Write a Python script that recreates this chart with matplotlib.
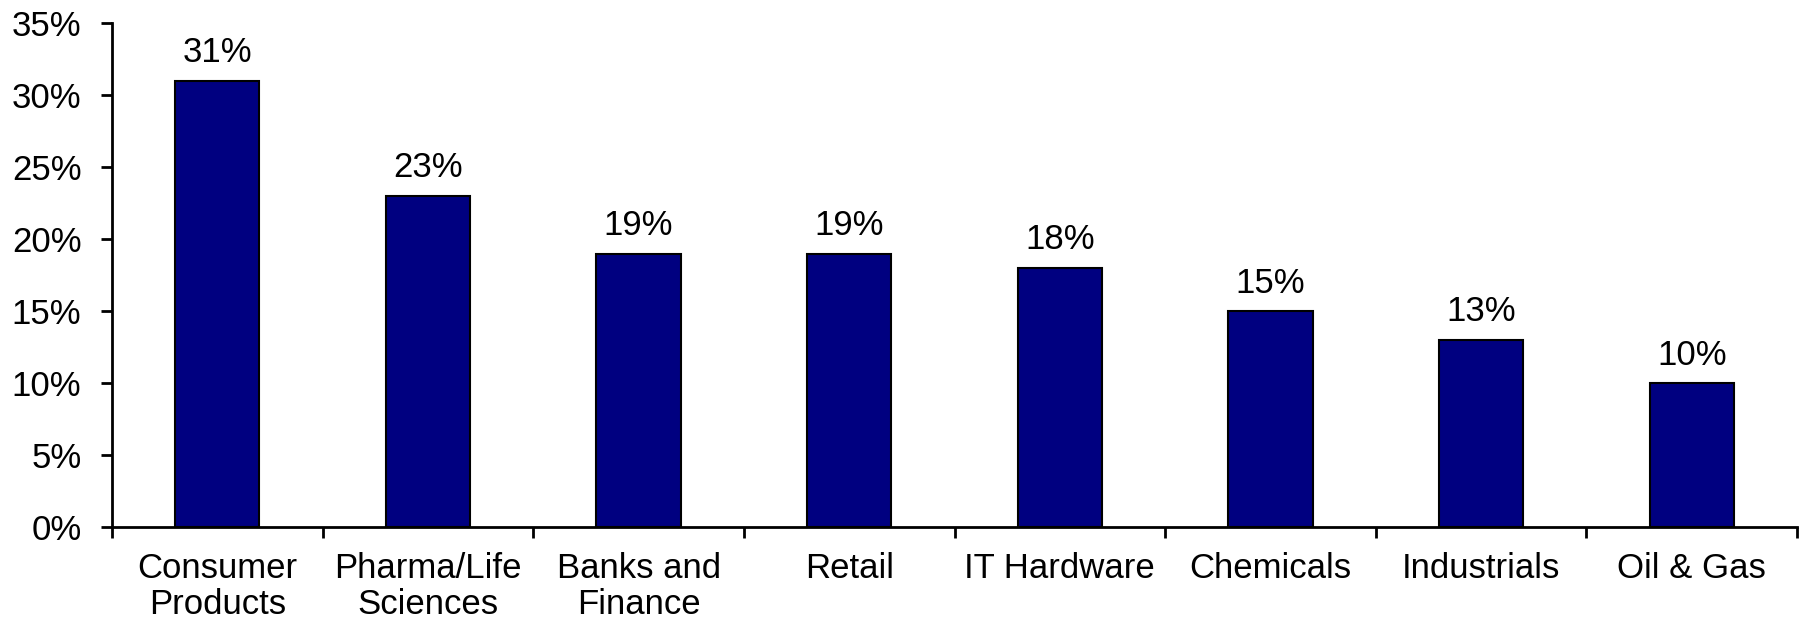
import matplotlib.pyplot as plt
import numpy as np
from matplotlib.ticker import FixedLocator, PercentFormatter

plt.rcParams['font.family'] = ['Liberation Sans', 'DejaVu Sans']

# Sector labels and values
sectors = ["Consumer\nProducts", "Pharma/Life\nSciences", "Banks and\nFinance", "Retail",
           "IT Hardware", "Chemicals", "Industrials", "Oil & Gas"]
values = [31, 23, 19, 19, 18, 15, 13, 10]
value_labels = ["31%", "23%", "19%", "19%", "18%", "15%", "13%", "10%"]
yticks = [0, 5, 10, 15, 20, 25, 30, 35]

fig = plt.figure(figsize=(18.07, 6.24), dpi=100)
ax = fig.add_axes([0.062, 0.155, 0.9325, 0.808])

x = np.arange(len(sectors))
bars = ax.bar(x, values, width=0.4, color="#000080", edgecolor="black", linewidth=1.5)

for b, lab in zip(bars, value_labels):
    ax.text(b.get_x() + b.get_width() / 2, b.get_height() + 0.8, lab,
            ha="center", va="bottom", fontsize=25)

ax.set_xlim(-0.5, len(sectors) - 0.5)
ax.set_ylim(0, 35)
ax.set_yticks(yticks)
ax.yaxis.set_major_formatter(PercentFormatter(decimals=0))

# labels at bar centres, tick marks at category boundaries
ax.set_xticks(x)
ax.set_xticklabels(sectors, fontsize=25, linespacing=1.12)
ax.tick_params(axis="x", which="major", length=0, pad=18)
ax.xaxis.set_minor_locator(FixedLocator(np.arange(-0.5, len(sectors), 1.0)))
ax.tick_params(axis="x", which="minor", length=8, width=2, direction="out")
ax.tick_params(axis="y", length=8, width=2, direction="out", labelsize=25, pad=14)

for s in ["top", "right"]:
    ax.spines[s].set_visible(False)
for s in ["left", "bottom"]:
    ax.spines[s].set_linewidth(2)

plt.savefig("out.png", dpi=100)
